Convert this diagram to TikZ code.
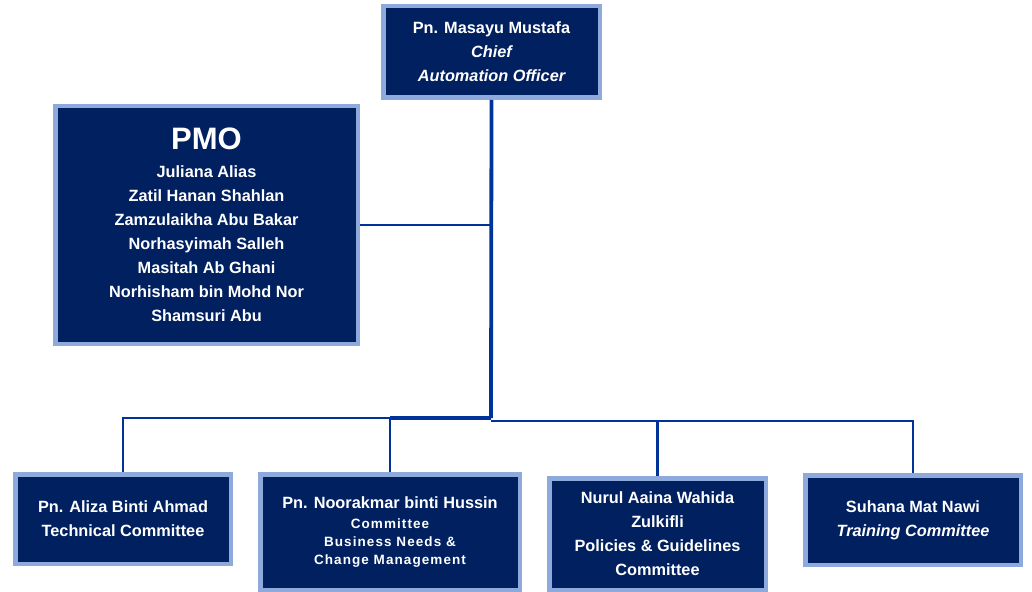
\documentclass[tikz,border=0pt]{standalone}
\usepackage{fontspec}
\setmainfont{Liberation Sans}
\newfontfamily\widesans[LetterSpace=8]{Liberation Sans}
\definecolor{boxfill}{RGB}{0,32,96}
\definecolor{boxedge}{RGB}{142,169,219}
\definecolor{linkblue}{RGB}{0,51,153}
\newcommand{\smallline}[1]{{\widesans\bfseries\fontsize{13.5}{18}\selectfont #1}}
\begin{document}
\begin{tikzpicture}[x=1pt,y=-1pt,
  box/.style={draw=boxedge, fill=boxfill, line width=4.5pt, text=white,
    font=\bfseries\fontsize{16.3}{24}\selectfont, align=center, inner sep=0pt},
  link/.style={draw=linkblue, line width=2.5pt, line join=miter},
  trunk/.style={draw=linkblue, line width=3.8pt, line join=miter}]
\useasboundingbox (0,0) rectangle (1032,591);
\fill[white] (0,0) rectangle (1032,591);

% boxes
\node[box, minimum width=216.5pt, minimum height=91.5pt] (top) at (491.5,52)
  {Pn. Masayu Mustafa\\\itshape Chief\\\itshape Automation Officer};
\node[box, minimum width=302.5pt, minimum height=237.5pt] (pmo) at (206.5,225)
  {{\fontsize{31}{31}\selectfont PMO}\\[4pt]Juliana Alias\\Zatil Hanan Shahlan\\Zamzulaikha Abu Bakar\\Norhasyimah Salleh\\Masitah Ab Ghani\\Norhisham bin Mohd Nor\\Shamsuri Abu};
\node[box, minimum width=215.5pt, minimum height=89.5pt] (b1) at (123,519)
  {Pn. Aliza Binti Ahmad\\Technical Committee};
\node[box, minimum width=259.5pt, minimum height=115.5pt] (b2) at (390,532)
  {Pn. Noorakmar binti Hussin\\[-4pt]\smallline{Committee}\\[-6pt]\smallline{Business Needs \&}\\[-6pt]\smallline{Change Management}};
\node[box, minimum width=216.5pt, minimum height=111.5pt] (b3) at (657.5,534)
  {Nurul Aaina Wahida\\Zulkifli\\Policies \& Guidelines\\Committee};
\node[box, minimum width=215.5pt, minimum height=89.5pt] (b4) at (913,520)
  {Suhana Mat Nawi\\\itshape Training Committee};

% junction points on the trunk
\coordinate (hub) at (491,225);
\coordinate (busL) at (491,418);
\coordinate (busR) at (491,421);

% connectors
\draw[link] (pmo.east) -- (hub);
\draw[trunk] (top.south) -- (busL);
\draw[trunk] (busL) -- (busL -| b2.north);
\draw[link] (busL) -| (b1.north);
\draw[link] (busL) -| (b2.north);
\draw[link] (busR) -| (b3.north);
\draw[link] (busR) -| (b4.north);
\end{tikzpicture}
\end{document}
